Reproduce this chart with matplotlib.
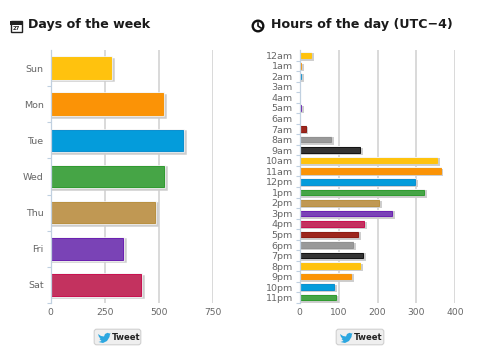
import matplotlib
matplotlib.use('Agg')
import matplotlib.pyplot as plt
import matplotlib.patheffects as pe
from matplotlib.patches import FancyBboxPatch, Rectangle, Circle, Polygon
from matplotlib.ticker import FixedLocator

W = 480
H = 357

DAYS = ['Sun', 'Mon', 'Tue', 'Wed', 'Thu', 'Fri', 'Sat']
DAY_VALUES = [279, 520, 613, 524, 482, 335, 418]
DAY_TICKS = [0, 250, 500, 750]

HOURS = ['12am', '1am', '2am', '3am', '4am', '5am', '6am', '7am', '8am', '9am', '10am', '11am',
         '12pm', '1pm', '2pm', '3pm', '4pm', '5pm', '6pm', '7pm', '8pm', '9pm', '10pm', '11pm']
HOUR_VALUES = [30, 4, 4, 0, 0, 4, 0, 15, 81, 155, 354, 362,
               297, 319, 204, 237, 165, 150, 138, 164, 155, 132, 89, 93]
HOUR_TICKS = [0, 100, 200, 300, 400]

DAY_COLORS = ['#FFC20E', '#FB9306', '#049CDB', '#46A546', '#C09853', '#7A43B6', '#C3325F']
COLORS = DAY_COLORS + ['#9D261D', '#999999', '#333333']
EDGES = ['#FFC40D', '#F89406', '#0A8FD0', '#2E9A2E', '#B8903F', '#6A1FB0', '#C80F4F',
         '#8C1A12', '#909090', '#111111']


def plot_bars(rect, names, values, ticks, colors, edges, height, stroke):
    ax = plt.gcf().add_axes([rect[0] / W, 1 - rect[3] / H, (rect[2] - rect[0]) / W, (rect[3] - rect[1]) / H])
    pos = list(range(len(names)))
    bars = ax.barh(pos, values, height=height, color=colors, edgecolor=edges, linewidth=0.7, zorder=3)
    for bar, value in zip(bars, values):
        if value == 0:
            bar.set_visible(False)
        bar.set_path_effects([
            pe.Stroke(offset=(1.3, -1.1), linewidth=stroke, foreground='#CDCDCD'),
            pe.Stroke(linewidth=stroke, foreground='#F4F4F4'),
            pe.Normal(),
        ])
    ax.set_xlim(ticks[0], ticks[-1])
    ax.set_ylim(len(names) - 0.5, -0.5)
    ax.set_xticks(ticks)
    ax.set_yticks(pos)
    ax.set_yticklabels(names)
    ax.yaxis.set_minor_locator(FixedLocator([p + 0.5 for p in pos]))
    ax.tick_params(axis='y', which='major', length=0, pad=5, labelsize=6.8, labelcolor='#666666')
    ax.tick_params(axis='y', which='minor', length=3, width=0.8, color='#C0D0E0')
    ax.tick_params(axis='x', length=0, pad=3.5, labelsize=6.6, labelcolor='#666666')
    ax.grid(axis='x', color='#CFCFCF', linewidth=1.1, zorder=0)
    ax.set_axisbelow(True)
    for side in ['top', 'right', 'bottom']:
        ax.spines[side].set_visible(False)
    ax.spines['left'].set_color('#C0D0E0')
    ax.spines['left'].set_linewidth(0.9)
    ax.spines['left'].set_zorder(5)
    return ax


def tweet_button(ov, x0, x1):
    ov.add_patch(FancyBboxPatch((x0 + 1, 330), x1 - x0 - 2, 14, boxstyle='round,pad=0.8,rounding_size=2.5',
                                fc='#EFEFEF', ec='#D0D0D0', lw=0.8))
    # little bird
    bx = x0 + 4
    by = 332
    bird = [(0, 2), (3, 4), (6, 4.5), (7, 2), (9.5, 0.8), (11.5, 1.5), (12.5, 1), (11.8, 3), (11.5, 5),
            (9, 9), (5, 11), (0.5, 10), (3.5, 9), (1.5, 7), (2.5, 6.5), (1, 5)]
    ov.add_patch(Polygon([(bx + p[0], by + p[1]) for p in bird], fc='#2CA7E0', ec='none'))
    ov.text(x0 + 17.5, 337.5, 'Tweet', fontsize=6.1, fontweight='bold', color='#222222', va='center', ha='left')


def calendar_icon(ov):
    ov.add_patch(Rectangle((10.5, 21), 11, 11, fc='white', ec='#222222', lw=1.0))
    ov.add_patch(Rectangle((10, 21), 12, 3.5, fc='#222222', ec='none'))
    ov.text(16, 28.6, '27', fontsize=3.8, fontweight='bold', color='#222222', ha='center', va='center')


def clock_icon(ov):
    ov.add_patch(Circle((258, 26), 5.3, fc='white', ec='#111111', lw=1.7))
    ov.plot([258, 258, 261], [23, 26, 28], color='#111111', lw=1.2)


def main():
    fig = plt.figure(figsize=(W / 100, H / 100), dpi=100, facecolor='white')

    plot_bars((50.5, 50, 213, 303), DAYS, DAY_VALUES, DAY_TICKS, DAY_COLORS, EDGES[:7], 0.6, 1.8)
    plot_bars((299.7, 50, 455.3, 303), HOURS, HOUR_VALUES, HOUR_TICKS,
              [COLORS[i % 10] for i in range(24)], [EDGES[i % 10] for i in range(24)], 0.52, 1.4)

    # overlay in pixel coordinates for titles, icons and buttons
    ov = fig.add_axes([0, 0, 1, 1], zorder=10)
    ov.set_xlim(0, W)
    ov.set_ylim(H, 0)
    ov.axis('off')

    ov.text(28.5, 24.5, 'Days of the week', fontsize=9.1, fontweight='bold', color='#1A1A1A', va='center')
    ov.text(271, 24.5, 'Hours of the day (UTC\u22124)', fontsize=9.1, fontweight='bold', color='#1A1A1A', va='center')
    calendar_icon(ov)
    clock_icon(ov)
    tweet_button(ov, 94, 141)
    tweet_button(ov, 336, 384)

    fig.savefig('out.png', dpi=100)
    plt.close('all')


if __name__ == '__main__':
    main()
